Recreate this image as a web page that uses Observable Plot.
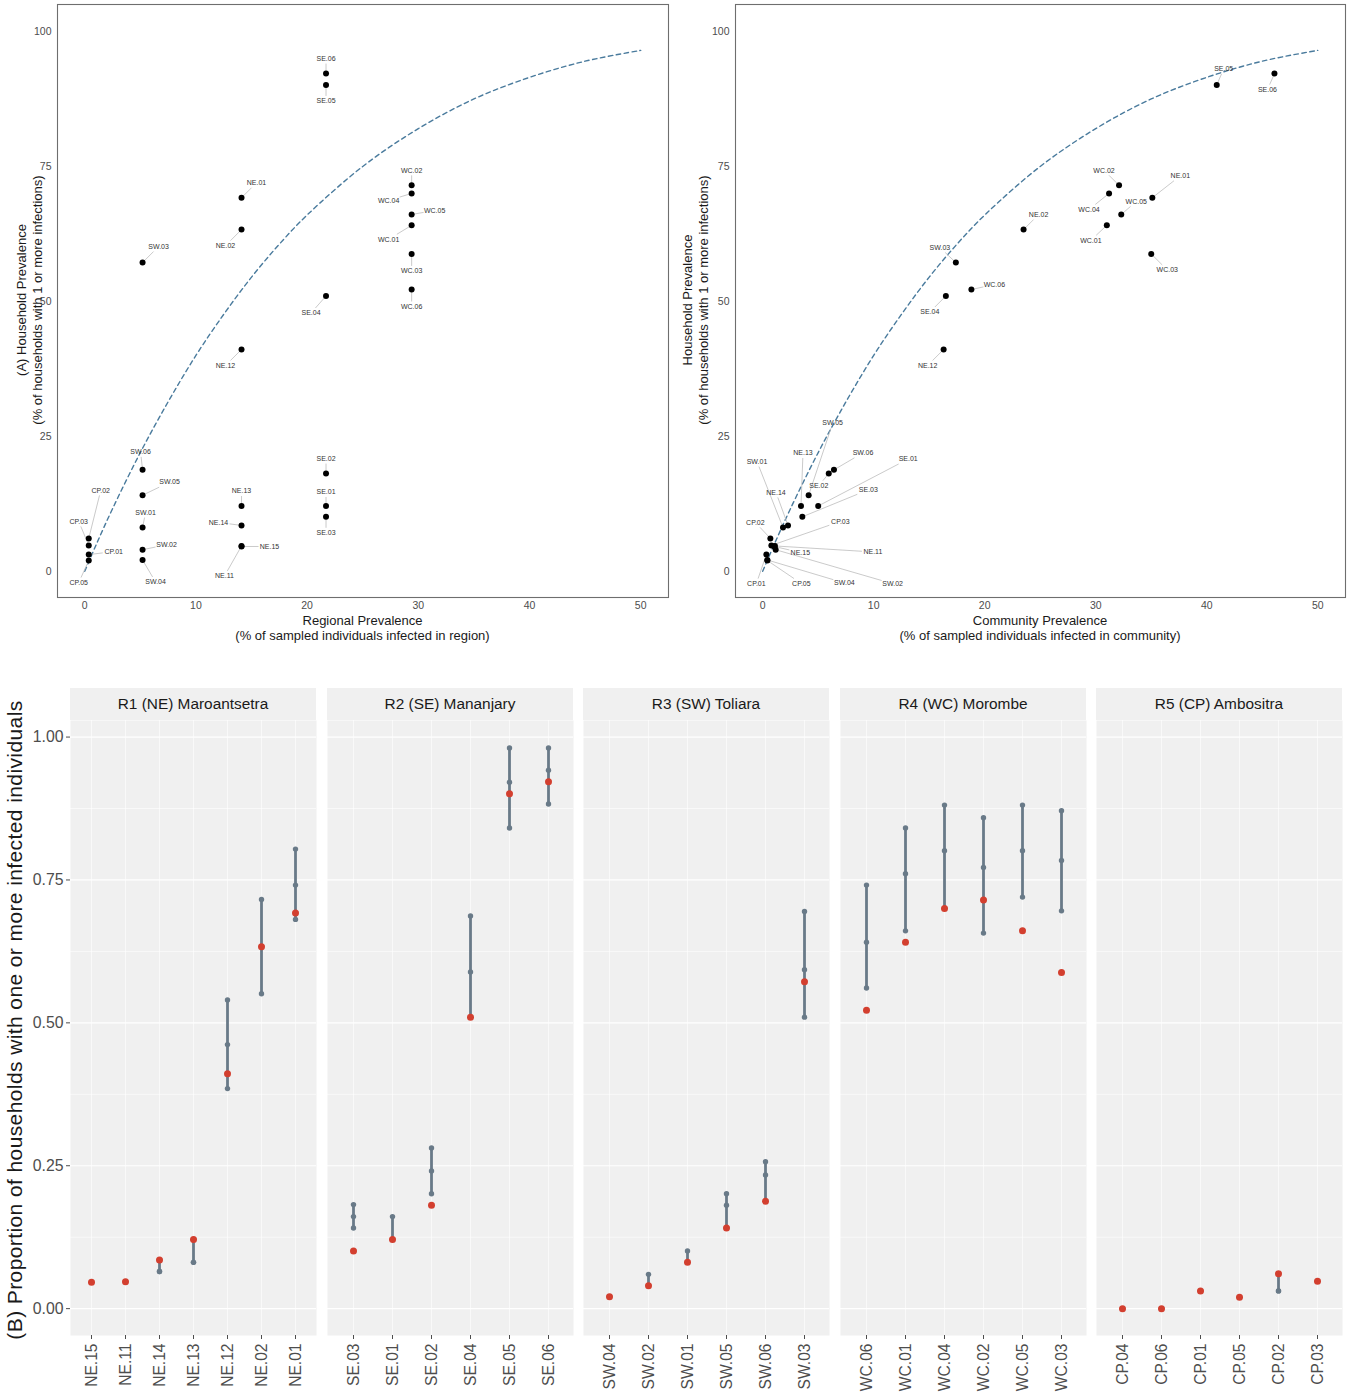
<!DOCTYPE html>
<html><head><meta charset="utf-8">
<script src="https://cdn.jsdelivr.net/npm/d3@7"></script>
<script src="https://cdn.jsdelivr.net/npm/@observablehq/plot@0.6"></script>
<style>
body{margin:0;background:#fff;font-family:"Liberation Sans",Arial,sans-serif;}
#root{position:relative;width:1349px;height:1397px;overflow:hidden;background:#fff;}
.t{position:absolute;white-space:nowrap;color:#1a1a1a;text-align:center;}
.strip{position:absolute;background:#f0f0f0;color:#1a1a1a;font-size:15.4px;text-align:center;line-height:32px;height:32px;}
</style></head><body><div id="root"></div>
<script>
// ---------------- data ----------------
const regions = ["NE","SE","SW","WC","CP"];
const regionTitles = ["R1 (NE) Maroantsetra","R2 (SE) Mananjary","R3 (SW) Toliara","R4 (WC) Morombe","R5 (CP) Ambositra"];
const regionalPrevalence = [14.1, 21.7, 5.2, 29.4, 0.36]; // % infected in region

const communities = ["NE.15","NE.11","NE.14","NE.13","NE.12","NE.02","NE.01",
  "SE.03","SE.01","SE.02","SE.04","SE.05","SE.06",
  "SW.04","SW.02","SW.01","SW.05","SW.06","SW.03",
  "WC.06","WC.01","WC.04","WC.02","WC.05","WC.03",
  "CP.04","CP.06","CP.01","CP.05","CP.02","CP.03"];

// observed household prevalence (proportion)
const observed = [0.046,0.047,0.085,0.121,0.411,0.633,0.692,
  0.101,0.121,0.181,0.510,0.901,0.922,
  0.021,0.040,0.081,0.141,0.188,0.572,
  0.522,0.641,0.700,0.715,0.661,0.588,
  0,0,0.031,0.020,0.061,0.048];
// simulated household prevalence: lower, median, upper
const simLower = [0.046,0.047,0.065,0.081,0.385,0.551,0.681,
  0.141,0.121,0.201,0.510,0.841,0.883,
  0.021,0.040,0.081,0.141,0.188,0.510,
  0.561,0.661,0.700,0.657,0.720,0.696,
  0,0,0.031,0.020,0.031,0.048];
const simMedian = [0.046,0.047,0.065,0.081,0.462,0.633,0.741,
  0.161,0.121,0.241,0.589,0.921,0.942,
  0.021,0.040,0.081,0.181,0.234,0.593,
  0.641,0.761,0.801,0.772,0.801,0.784,
  0,0,0.031,0.020,0.031,0.048];
const simUpper = [0.046,0.047,0.085,0.121,0.540,0.716,0.804,
  0.182,0.161,0.281,0.687,0.981,0.981,
  0.021,0.060,0.101,0.201,0.257,0.695,
  0.741,0.841,0.881,0.859,0.881,0.871,
  0,0,0.031,0.020,0.061,0.048];
// community prevalence (% of sampled individuals infected)
const communityPrevalence = [1.05,1.10,2.28,3.45,16.3,23.5,35.1,
  3.57,5.0,5.95,16.5,40.9,46.1,
  0.42,1.17,1.83,4.14,6.42,17.4,
  18.8,31.0,31.2,32.1,32.3,35.0,
  null,null,0.33,0.42,0.69,0.78];

// expected household prevalence curve
const curveX = [0,1,2.5,5,7.5,10,12.5,15,17.5,20,25,30,35,40,45,50];
const curveY = [0,4.8,11.6,22.0,31.4,40.0,47.6,54.5,60.6,66.0,75.0,82.0,87.5,91.5,94.5,96.5];

// label nudges (pixels) for the repelled labels
const nudgeA = [[28,0],[-17,30],[-23,-3],[0,-15],[-16,16],[-16,16],[15,-15],
  [0,16],[0,-14],[0,-15],[-15,17],[0,16],[0,-15],
  [13,22],[24,-5],[3,-15],[27,-13],[-2,-18],[16,-16],
  [0,17],[-23,14],[-23,7],[0,-15],[23,-4],[0,17],
  null,null,[25,-3],[-10,22],[12,-48],[-10,-24]];
const nudgeB = [[26,6],[98,6],[-12,-33],[2,-53],[-16,16],[15,-15],[28,-22],
  [66,-27],[90,-47],[-10,12],[-16,16],[7,-16],[-7,16],
  [77,23],[117,34],[-26,-66],[24,-72],[29,-17],[-16,-15],
  [23,-5],[-16,15],[-20,16],[-15,-15],[15,-13],[16,16],
  null,null,[-10,29],[34,23],[-15,-16],[69,-24]];

// ---------------- build ----------------
const rows = communities.map((name, i) => {
  const region = name.slice(0, 2);
  const ri = regions.indexOf(region);
  return {i, name, region, obs: observed[i], lo: simLower[i], mid: simMedian[i], hi: simUpper[i],
    regPrev: regionalPrevalence[ri], comPrev: communityPrevalence[i]};
});
const curve = curveX.map((x, i) => ({x, y: curveY[i]}));

const root = document.getElementById("root");
function place(el, left, top) {
  el.style.position = "absolute"; el.style.left = left + "px"; el.style.top = top + "px";
  root.appendChild(el);
}
function addText(txt, {left, top, width, size, lh, rotate, spacing}) {
  const d = document.createElement("div");
  d.className = "t";
  d.innerHTML = txt;
  d.style.fontSize = size + "px";
  d.style.lineHeight = lh + "px";
  d.style.width = width + "px";
  if (spacing) d.style.letterSpacing = spacing + "px";
  if (rotate) {
    d.style.transformOrigin = "center center";
    d.style.transform = "rotate(-90deg)";
  }
  d.style.left = left + "px"; d.style.top = top + "px";
  root.appendChild(d);
  return d;
}

const font = "'Liberation Sans', Arial, sans-serif";

function scatter({xKey, width, marginLeft, marginRight, nudges}) {
  const height = 645, marginTop = 4, marginBottom = 48;
  const xDomain = [-2.45, 52.5], yDomain = [-4.85, 105];
  const kx = (width - marginLeft - marginRight) / (xDomain[1] - xDomain[0]);
  const ky = (height - marginTop - marginBottom) / (yDomain[1] - yDomain[0]);
  const pts = rows.filter(d => d[xKey] != null && d.obs > 0 && nudges[d.i]).map(d => {
    const [ox, oy] = nudges[d.i];
    const x = d[xKey], y = d.obs * 100;
    const hw = 11, hh = 5;
    let t = Math.min(ox ? hw / Math.abs(ox) : Infinity, oy ? hh / Math.abs(oy) : Infinity);
    t = Math.min(t, 1);
    return {name: d.name, x, y, lx: x + ox / kx, ly: y - oy / ky,
      ex: x + ox * (1 - t) / kx, ey: y - oy * (1 - t) / ky};
  });
  return Plot.plot({
    width, height, marginTop, marginBottom, marginLeft, marginRight,
    style: {fontFamily: font, background: "transparent", overflow: "visible"},
    x: {domain: xDomain}, y: {domain: yDomain},
    marks: [
      Plot.axisX({ticks: [0,10,20,30,40,50], tickSize: 0, tickPadding: 4, fontSize: 10.5, color: "#4d4d4d", label: null}),
      Plot.axisY({ticks: [0,25,50,75,100], tickSize: 0, tickPadding: 6, fontSize: 10.5, color: "#4d4d4d", label: null}),
      Plot.line(curve, {x: "x", y: "y", stroke: "#4a7b9d", strokeWidth: 1.4, strokeDasharray: "4.5,3.5", curve: "catmull-rom"}),
      Plot.link(pts, {x1: "x", y1: "y", x2: "ex", y2: "ey", stroke: "#bdbdbd", strokeWidth: 0.8}),
      Plot.dot(pts, {x: "x", y: "y", r: 3, fill: "#000"}),
      Plot.text(pts, {x: "lx", y: "ly", text: "name", fontSize: 7, fill: "#333"}),
      Plot.frame({stroke: "#6e6e6e", strokeWidth: 1.1})
    ]
  });
}

// Panel A left
place(scatter({xKey: "regPrev", width: 680, marginLeft: 57, marginRight: 12, nudges: nudgeA}), 0, 0);
// Panel A right
place(scatter({xKey: "comPrev", width: 669, marginLeft: 55, marginRight: 4, nudges: nudgeB}), 680, 0);

addText("Regional Prevalence<br>(% of sampled individuals infected in region)", {left: 57, top: 614, width: 611, size: 13, lh: 14.5});
addText("Community Prevalence<br>(% of sampled individuals infected in community)", {left: 735, top: 614, width: 610, size: 13, lh: 14.5});
addText("(A) Household Prevalence<br>(% of households with 1 or more infections)", {left: 30 - 300, top: 300 - 16, width: 600, size: 13, lh: 16, rotate: true});
addText("Household Prevalence<br>(% of households with 1 or more infections)", {left: 695.5 - 300, top: 300 - 16, width: 600, size: 13, lh: 16, rotate: true});

// Panel B facets
const panelLefts = [70, 327, 583, 840, 1096];
const panelW = 246;
const grayC = "#697a88", redC = "#d33f2f";
regions.forEach((r, i) => {
  const data = rows.filter(d => d.region === r);
  const simPts = data.flatMap(d => [{name: d.name, v: d.lo}, {name: d.name, v: d.mid}, {name: d.name, v: d.hi}]);
  const first = i === 0;
  const chart = Plot.plot({
    width: first ? panelLefts[0] + panelW : panelW,
    height: 677, marginTop: 0, marginBottom: 62,
    marginLeft: first ? panelLefts[0] : 0, marginRight: 0,
    style: {fontFamily: font, background: "transparent", overflow: "visible"},
    x: {type: "point", domain: data.map(d => d.name), padding: 0.6, axis: null},
    y: {domain: [-0.047, 1.029], axis: null},
    marks: [
      Plot.frame({fill: "#f0f0f0"}),
      Plot.gridY({ticks: [0.125, 0.375, 0.625, 0.875], stroke: "#fff", strokeOpacity: 1, strokeWidth: 0.6}),
      Plot.gridY({ticks: [0, 0.25, 0.5, 0.75, 1], stroke: "#fff", strokeOpacity: 1, strokeWidth: 1.2}),
      Plot.gridX({stroke: "#fff", strokeOpacity: 1, strokeWidth: 0.6}),
      Plot.ruleX(data, {x: "name", y1: "lo", y2: "hi", stroke: grayC, strokeWidth: 2.8}),
      Plot.dot(simPts, {x: "name", y: "v", r: 2.7, fill: grayC}),
      Plot.dot(data, {x: "name", y: "obs", r: 3.5, fill: redC}),
      first ? Plot.axisY({ticks: [0, 0.25, 0.5, 0.75, 1], tickFormat: d3.format(".2f"), tickSize: 4, tickPadding: 3, fontSize: 15.8, color: "#4d4d4d", label: null}) : null,
      Plot.axisX({tickRotate: -90, tickSize: 4, tickPadding: 4, fontSize: 15.6, color: "#4d4d4d", label: null})
    ]
  });
  place(chart, first ? 0 : panelLefts[i], 720);
  const s = document.createElement("div");
  s.className = "strip";
  s.textContent = regionTitles[i];
  s.style.width = panelW + "px";
  place(s, panelLefts[i], 688);
});
addText("(B) Proportion of households with one or more infected individuals", {left: 15 - 400, top: 1020 - 12, width: 800, size: 21, lh: 24, rotate: true, spacing: 0.4});
</script></body></html>
